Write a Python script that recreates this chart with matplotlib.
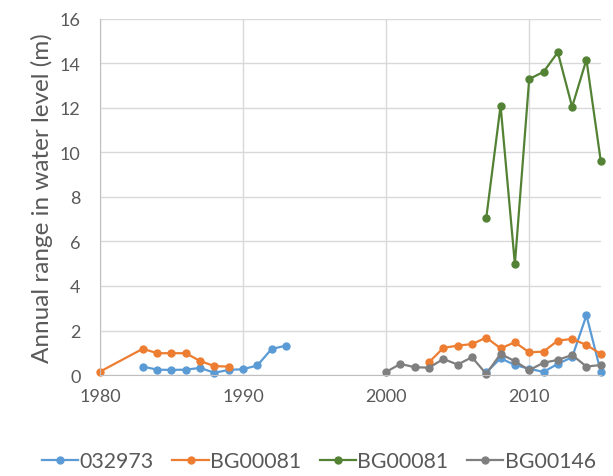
import numpy as np
import matplotlib.pyplot as plt

plt.rcParams['font.family'] = ['Lato', 'DejaVu Sans']

nan = np.nan

# 032973
years_a = [1983, 1984, 1985, 1986, 1987, 1988, 1989, 1990, 1991, 1992, 1993, 1994,
           2007, 2008, 2009, 2010, 2011, 2012, 2013, 2014, 2015]
vals_a = [0.38, 0.24, 0.23, 0.24, 0.32, 0.1, 0.23, 0.26, 0.43, 1.17, 1.32, nan,
          0.12, 0.75, 0.45, 0.28, 0.14, 0.5, 0.8, 2.68, 0.15]

# BG00081 (first)
years_b = [1980, 1983, 1984, 1985, 1986, 1987, 1988, 1989, 1990,
           2003, 2004, 2005, 2006, 2007, 2008, 2009, 2010, 2011, 2012, 2013, 2014, 2015]
vals_b = [0.15, 1.18, 0.98, 0.98, 0.98, 0.63, 0.4, 0.38, nan,
          0.57, 1.22, 1.32, 1.39, 1.68, 1.2, 1.47, 1.02, 1.05, 1.55, 1.62, 1.35, 0.95]

# BG00081 (second)
years_c = [2007, 2008, 2009, 2010, 2011, 2012, 2013, 2014, 2015]
vals_c = [7.06, 12.1, 4.98, 13.3, 13.62, 14.5, 12.05, 14.17, 9.62]

# BG00146
years_d = [2000, 2001, 2002, 2003, 2004, 2005, 2006, 2007, 2008, 2009,
           2010, 2011, 2012, 2013, 2014, 2015]
vals_d = [0.14, 0.5, 0.35, 0.33, 0.72, 0.47, 0.8, 0.05, 0.95, 0.62,
          0.22, 0.55, 0.68, 0.9, 0.38, 0.45]

labels = ['032973', 'BG00081', 'BG00081', 'BG00146']
colors = ['#5B9BD5', '#ED7D31', '#548235', '#7F7F7F']

fig = plt.figure(figsize=(6.13, 4.77), dpi=100)
ax = fig.add_axes([0.163, 0.2117, 0.817, 0.7465])

series = [(years_a, vals_a), (years_b, vals_b), (years_c, vals_c), (years_d, vals_d)]
for (x, y), lab, col in zip(series, labels, colors):
    ax.plot(x, y, color=col, lw=1.6, marker='o', ms=5, label=lab, clip_on=False)

ax.set_xlim(1980, 2015)
ax.set_ylim(0, 16)
ax.set_xticks([1980, 1990, 2000, 2010])
ax.set_yticks(np.arange(0, 17, 2))
ax.grid(True, color='#D9D9D9', lw=1)
ax.set_axisbelow(True)
for s in ['top', 'right']:
    ax.spines[s].set_visible(False)
for s in ['left', 'bottom']:
    ax.spines[s].set_color('#BFBFBF')
ax.tick_params(length=0, labelsize=13, colors='#595959')
ax.tick_params(axis='x', pad=9)
ax.tick_params(axis='y', pad=14)
ax.set_ylabel('Annual range in water level (m)', fontsize=17.5, color='#595959', labelpad=5)

fig.legend(loc='lower center', bbox_to_anchor=(0.52, -0.03), ncol=4, frameon=False,
           fontsize=15.3, handlelength=1.7, columnspacing=0.9, handletextpad=0.05,
           labelcolor='#595959')

fig.savefig('out.png', dpi=100, facecolor='white')
